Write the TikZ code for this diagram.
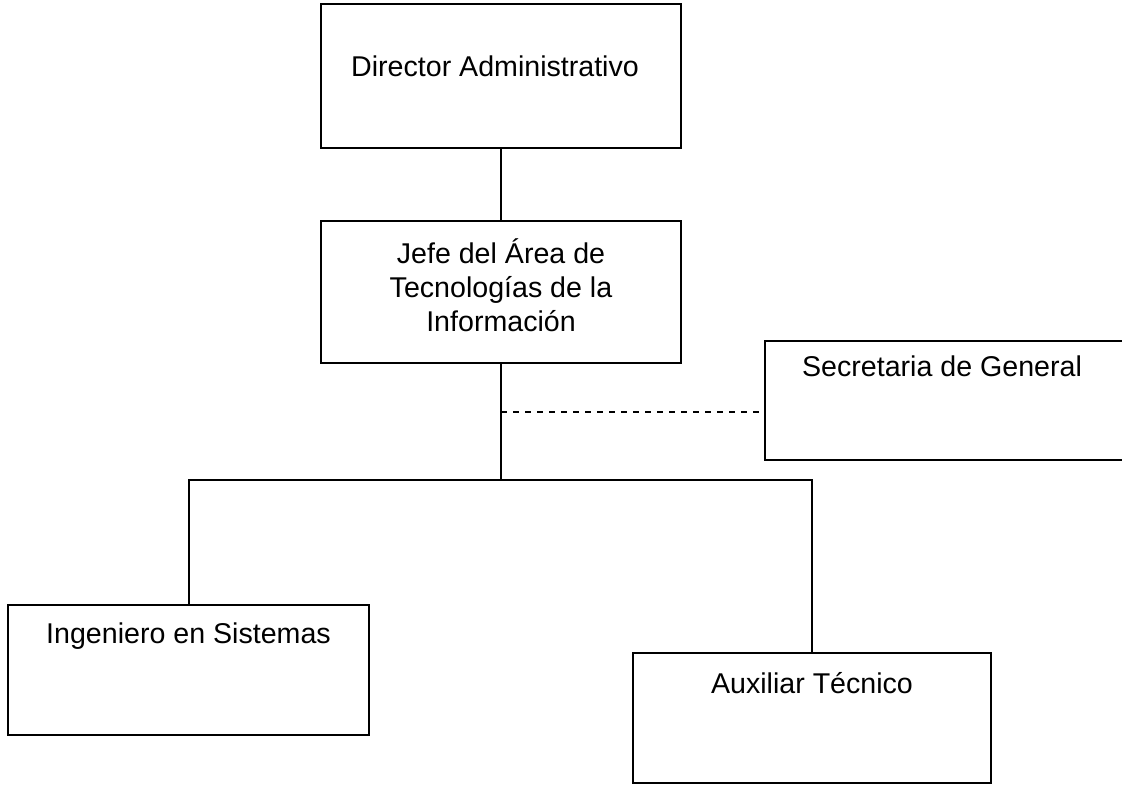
\documentclass[tikz,border=0pt]{standalone}
\usepackage{fontspec}
\setmainfont{Liberation Sans}
\usepackage{tikz}
\usetikzlibrary{positioning}

\begin{document}
\begin{tikzpicture}[x=0.5pt,y=-0.5pt,line width=1pt,
  every node/.style={font=\fontsize{14.3}{17}\selectfont},
  box/.style={draw,rectangle,inner sep=0pt,line width=1pt},
  txt/.style={inner sep=0pt,anchor=base,align=center}]
\useasboundingbox (0,0) rectangle (1122,785);
\clip (0,0) rectangle (1122,785);
% boxes
\node[box,minimum width=180pt,minimum height=72pt] (dir) at (501,76) {};
\node[box,minimum width=180pt,minimum height=71pt] (jefe) at (501,292) {};
\node[box,minimum width=183pt,minimum height=59.5pt] (sec) at (948,400.5) {};
\node[box,minimum width=180.5pt,minimum height=65pt] (ing) at (188.5,670) {};
\node[box,minimum width=179pt,minimum height=65pt] (aux) at (812,718) {};
% texts
\node[txt] (dirT) at (495,77) {Director Administrativo};
\node[txt] (jefeT) at (501,332) {Jefe del Área de\\Tecnologías de la\\Información};
\node[txt] (secT) at (942,377) {Secretaria de General};
\node[txt] (ingT) at (188.5,643) {Ingeniero en Sistemas};
\node[txt] (auxT) at (812,693) {Auxiliar Técnico};
% lines
\coordinate (jun) at (501,480);
\coordinate (dash) at (501,412);
\draw (dir.south) -- (jefe.north);
\draw (jefe.south) -- (jun);
\draw[dashed,line width=0.6pt] (dash) -- (sec.west |- dash);
\draw (ing.north) |- (jun) -| (aux.north);
\end{tikzpicture}
\end{document}
